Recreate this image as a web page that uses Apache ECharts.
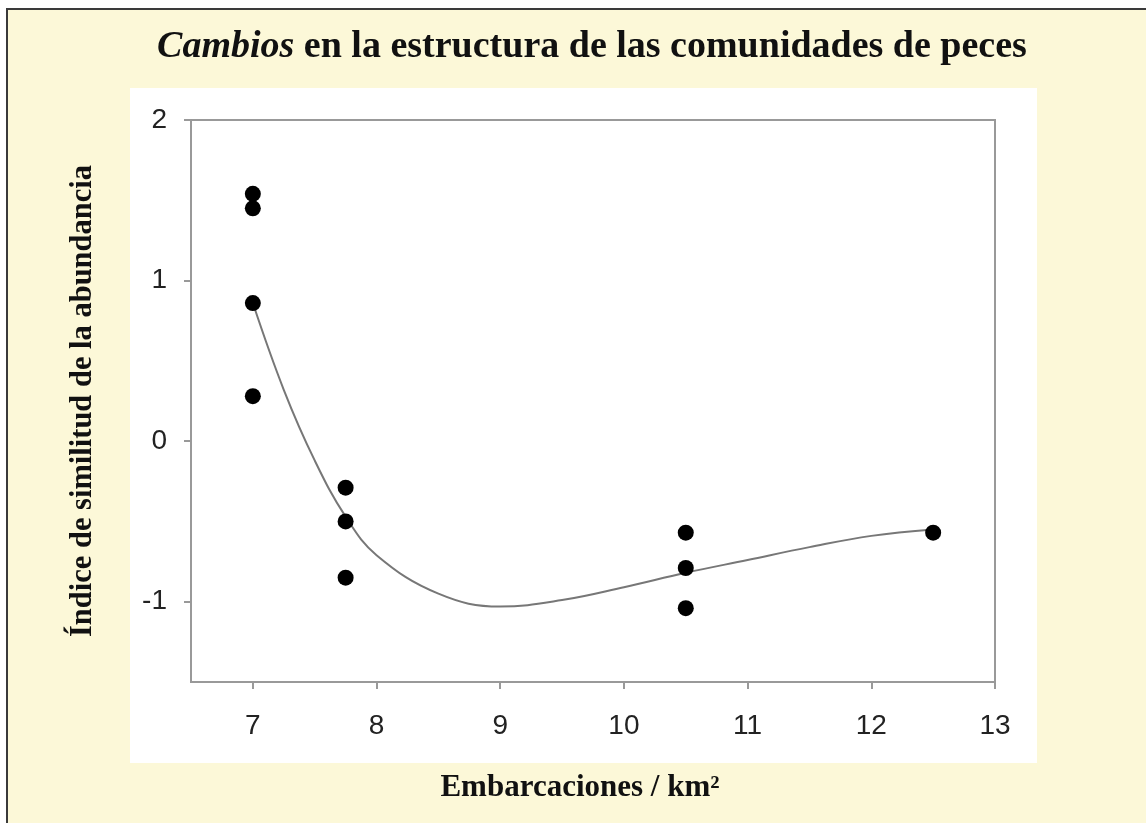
<!DOCTYPE html>
<html>
<head>
<meta charset="utf-8">
<script src="https://cdn.jsdelivr.net/npm/echarts@6/dist/echarts.min.js"></script>
<style>
  html, body { margin: 0; padding: 0; background: #ffffff; }
  #main { width: 1146px; height: 823px; }
</style>
</head>
<body>
<div id="main"></div>
<script>
// puntos observados (embarcaciones/km2, indice)
var puntosX = [7, 7, 7, 7, 7.75, 7.75, 7.75, 10.5, 10.5, 10.5, 12.5];
var puntosY = [1.54, 1.45, 0.86, 0.28, -0.29, -0.50, -0.85, -0.57, -0.79, -1.04, -0.57];

// curva ajustada
var curvaX = [7, 7.25, 7.5, 7.75, 8, 8.5, 9, 9.5, 10, 10.5, 11, 11.5, 12, 12.5];
var curvaY = [0.86, 0.32, -0.12, -0.47, -0.71, -0.95, -1.03, -0.99, -0.91, -0.82, -0.74, -0.66, -0.59, -0.55];

var xTicks = [7, 8, 9, 10, 11, 12, 13];
var yTicks = [-1, 0, 1, 2];

var serif = "'Liberation Serif', 'DejaVu Serif', serif";
var sans = "'Liberation Sans', Arial, sans-serif";
var gris = "#999999";

var myChart = echarts.init(document.getElementById("main"));

var option = {
  backgroundColor: "#ffffff",
  animation: false,
  graphic: [
    // fondo amarillo con borde
    {
      type: "rect",
      z: -10,
      shape: { x: 7, y: 9, width: 1200, height: 900 },
      style: { fill: "#fcf8d8", stroke: "#3a3a3a", lineWidth: 2 }
    },
    // panel blanco
    {
      type: "rect",
      z: -9,
      shape: { x: 130, y: 88, width: 907, height: 675 },
      style: { fill: "#ffffff" }
    }
  ],
  title: {
    text: "{i|Cambios} en la estructura de las comunidades de peces",
    left: 587,
    top: 23,
    textAlign: "center",
    textStyle: {
      fontFamily: serif,
      fontSize: 38,
      fontWeight: "bold",
      color: "#111111",
      rich: {
        i: {
          fontFamily: serif,
          fontSize: 38,
          fontWeight: "bold",
          fontStyle: "italic",
          color: "#111111"
        }
      }
    }
  },
  grid: {
    left: 191,
    right: 151,
    top: 120,
    bottom: 141,
    show: true,
    backgroundColor: "transparent",
    borderColor: gris,
    borderWidth: 2
  },
  xAxis: {
    type: "value",
    min: 6.5,
    max: 13,
    name: "Embarcaciones / km²",
    nameLocation: "middle",
    nameGap: 90,
    nameTextStyle: {
      fontFamily: serif,
      fontSize: 31,
      fontWeight: "bold",
      color: "#111111",
      padding: [0, 26, 0, 0]
    },
    axisLine: { show: true, onZero: false, lineStyle: { color: gris, width: 2 } },
    axisTick: {
      show: true,
      length: 7,
      customValues: xTicks,
      lineStyle: { color: gris, width: 2 }
    },
    axisLabel: {
      customValues: xTicks,
      margin: 30,
      fontFamily: sans,
      fontSize: 28,
      color: "#222222"
    },
    splitLine: { show: false }
  },
  yAxis: {
    type: "value",
    min: -1.5,
    max: 2,
    name: "Índice de similitud de la abundancia",
    nameLocation: "middle",
    nameGap: 92,
    nameTextStyle: {
      fontFamily: serif,
      fontSize: 30.5,
      fontWeight: "bold",
      color: "#111111"
    },
    axisLine: { show: true, onZero: false, lineStyle: { color: gris, width: 2 } },
    axisTick: {
      show: true,
      length: 7,
      customValues: yTicks,
      lineStyle: { color: gris, width: 2 }
    },
    axisLabel: {
      customValues: yTicks,
      margin: 24,
      fontFamily: sans,
      fontSize: 28,
      color: "#222222"
    },
    splitLine: { show: false }
  },
  series: [
    {
      name: "ajuste",
      type: "line",
      smooth: 0.4,
      showSymbol: false,
      lineStyle: { color: "#777777", width: 2 },
      data: curvaX.map(function (x, i) { return [x, curvaY[i]]; }),
      z: 2
    },
    {
      name: "observado",
      type: "scatter",
      symbolSize: 16,
      itemStyle: { color: "#000000", opacity: 1 },
      data: puntosX.map(function (x, i) { return [x, puntosY[i]]; }),
      z: 3
    }
  ]
};

myChart.setOption(option);
</script>
</body>
</html>
